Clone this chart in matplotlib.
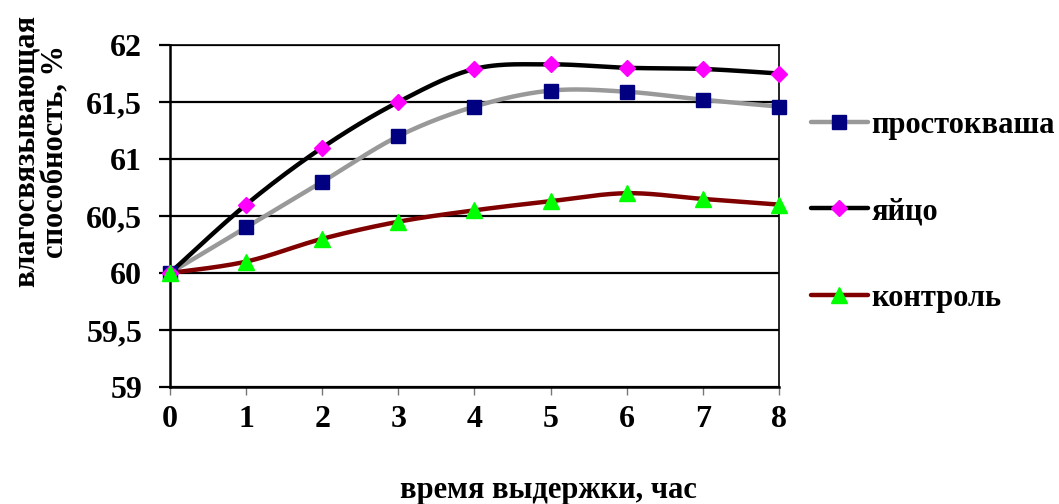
import numpy as np
import matplotlib
matplotlib.use('Agg')
import matplotlib.pyplot as plt
from matplotlib.lines import Line2D

#==================
# Data
#==================
hours = [0, 1, 2, 3, 4, 5, 6, 7, 8]
prostokvasha = [60.0, 60.4, 60.8, 61.2, 61.46, 61.6, 61.59, 61.52, 61.46]
yaitso = [60.0, 60.6, 61.1, 61.5, 61.79, 61.83, 61.8, 61.79, 61.75]
kontrol = [60.0, 60.1, 60.3, 60.45, 60.55, 60.63, 60.7, 60.65, 60.6]

names = ['простокваша', 'яйцо', 'контроль']
yticks = [59, 59.5, 60, 60.5, 61, 61.5, 62]
ytick_labels = ['59', '59,5', '60', '60,5', '61', '61,5', '62']


def smooth(x, y, n=30):
    # Catmull-Rom type bezier through the points (spreadsheet "smoothed line")
    x = np.asarray(x, float)
    y = np.asarray(y, float)
    px = np.concatenate([[x[0]], x, [x[-1]]])
    py = np.concatenate([[y[0]], y, [y[-1]]])
    xs, ys = [], []
    t = np.linspace(0, 1, n)
    for i in range(1, len(px) - 2):
        p0 = np.array([px[i], py[i]])
        p3 = np.array([px[i + 1], py[i + 1]])
        p1 = p0 + (np.array([px[i + 1], py[i + 1]]) - np.array([px[i - 1], py[i - 1]])) / 6.0
        p2 = p3 - (np.array([px[i + 2], py[i + 2]]) - np.array([px[i], py[i]])) / 6.0
        b = ((1 - t) ** 3)[:, None] * p0 + (3 * (1 - t) ** 2 * t)[:, None] * p1 \
            + (3 * (1 - t) * t ** 2)[:, None] * p2 + (t ** 3)[:, None] * p3
        xs.extend(b[:, 0])
        ys.extend(b[:, 1])
    return np.array(xs), np.array(ys)


plt.rcParams['font.family'] = ['Liberation Serif', 'DejaVu Serif']
plt.rcParams['font.weight'] = 'bold'

fig = plt.figure(figsize=(10.59, 5.04), dpi=100)
ax = fig.add_axes([0.1605, 0.2321, 0.5751, 0.6786])

styles = [
    (prostokvasha, '#999999', 's', '#000080', 10),
    (yaitso, '#000000', 'D', '#FF00FF', 8),
    (kontrol, '#800000', '^', '#00FF00', 11),
]

handles = []
for (vals, lc, mk, mc, ms), nm in zip(styles, names):
    sx, sy = smooth(hours, vals)
    ax.plot(sx, sy, color=lc, lw=3.2, solid_capstyle='round', zorder=3)
    ax.plot(hours, vals, ls='none', marker=mk, ms=ms, mfc=mc, mec=mc, zorder=4, clip_on=False)
    handles.append(Line2D([0], [0], color=lc, lw=3.2, marker=mk, ms=ms, mfc=mc, mec=mc,
                          solid_capstyle='round'))

ax.set_xlim(0, 8)
ax.set_ylim(59, 62)
ax.set_yticks(yticks)
ax.set_yticklabels(ytick_labels)
ax.set_xticks(hours)
ax.yaxis.grid(True, color='black', lw=1.6)
ax.set_axisbelow(True)

for s in ['top', 'right']:
    ax.spines[s].set_color('black')
    ax.spines[s].set_linewidth(1.2)
ax.spines['left'].set_linewidth(1.8)
ax.spines['bottom'].set_linewidth(1.8)

ax.tick_params(axis='y', direction='out', length=8, width=1.6, labelsize=23, pad=12)
ax.tick_params(axis='x', direction='out', length=6, width=1, color='#777777', labelsize=23, pad=7)
for lb in ax.get_xticklabels() + ax.get_yticklabels():
    lb.set_fontweight('bold')

fig.text(0.038, 0.70, 'влагосвязывающая\nспособность, %', fontsize=22, fontweight='bold',
         rotation=90, ha='center', va='center', multialignment='center', linespacing=1.0)
fig.text(0.5175, 0.012, 'время выдержки, час', fontsize=22, fontweight='bold', ha='center')

leg = fig.legend(handles, names, loc='center left', bbox_to_anchor=(0.766, 0.58),
                 frameon=False, handlelength=1.85, handletextpad=0.12,
                 labelspacing=1.88, borderaxespad=0, borderpad=0,
                 prop={'weight': 'bold', 'size': 22})

fig.savefig('out.png', dpi=100)
